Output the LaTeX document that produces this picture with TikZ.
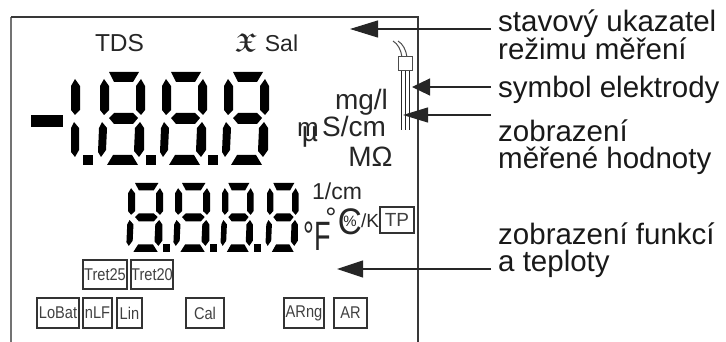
\documentclass[tikz,border=0pt]{standalone}
\usepackage{fontspec}
\setmainfont{Liberation Sans}
\newfontfamily\tagfont[FakeStretch=0.86]{Liberation Sans}
\font\boldfrak=eufb10 at 26pt
\usetikzlibrary{arrows.meta}
\tikzset{
  x=1pt,y=-1pt,
  fs/.style={font=\fontsize{#1}{#1}\selectfont},
  txt/.style={inner sep=0pt,text=black!85,anchor=base},
  lab/.style={inner sep=0pt,anchor=west,align=left,fs=29.5,text=black!90},
  tagbox/.style={draw=black!80,line width=1.2pt,inner sep=0pt,font=\tagfont\fontsize{17}{17}\selectfont,text=black!75},
  frameline/.style={line width=1.7pt,draw=black!78},
  pointer/.style 2 args={-{Triangle[length=#1,width=#2]},line width=1.1pt,draw=black!85},
  seg8/.pic={
    \fill (9,0)--(39,0)--(33,10)--(14,10)--cycle;
    \fill (4,7)--(9,14)--(9,38)--(4,43)--(0,38)--(0,14)--cycle;
    \fill (41,7)--(45,14)--(45,38)--(41,43)--(36,38)--(36,14)--cycle;
    \fill (14,41)--(33,41)--(38,46)--(33,52)--(14,52)--(9,46)--cycle;
    \fill (2,50)--(7,56)--(6,78)--(1,85)--(-2,80)--(-1,56)--cycle;
    \fill (40,50)--(44,56)--(44,78)--(39,85)--(34,79)--(35,56)--cycle;
    \fill (13,83)--(32,83)--(38,93)--(7,93)--cycle;
  },
  seg1/.pic={
    \fill (4,7)--(9,14)--(9,38)--(4,43)--(0,38)--(0,14)--cycle;
    \fill (3,50)--(8,56)--(8,78)--(4,85)--(0,80)--(0,56)--cycle;
  }
}
\begin{document}
\begin{tikzpicture}
\useasboundingbox (0,0) rectangle (726,342);
% frame
\draw[frameline,draw=black!55] (11,342) -- (11,17);
\draw[frameline] (11,17) -- (418,17) -- (418,342);
% top indicators
\node[txt,fs=24.5] (tds) at (119.5,52) {TDS};
\node[txt] (kappa) at (246,52) {\boldfrak X};
\node[txt,fs=23] (sal) at (281.5,52) {Sal};
% large digits
\fill (31,115) rectangle (63,127);
\pic at (71,72) {seg1};
\pic at (100,72) {seg8};
\pic at (162,72) {seg8};
\pic at (224,72) {seg8};
\fill (83,155) rectangle (93,165);
\fill (146,155) rectangle (156,165);
\fill (208,155) rectangle (218,165);
% small digits
\pic[xscale=.78,yscale=.74] at (128,183) {seg8};
\pic[xscale=.78,yscale=.74] at (175,183) {seg8};
\pic[xscale=.70,yscale=.74] at (222,183) {seg8};
\pic[xscale=.70,yscale=.74] at (267,183) {seg8};
\fill (163,244) rectangle (170,252);
\fill (210,244) rectangle (217,252);
\fill (254,244) rectangle (261,252);
% units
\node[txt,fs=28] (mgl) at (361.5,110) {mg/l};
\node[txt,fs=28] (scm) at (354,137) {S/cm};
\node[txt,fs=26] (mover) at (308,137) {m};
\node[txt,fs=28] (muover) at (310,142) {µ};
\node[txt,fs=28] (mohm) at (370.5,167) {MΩ};
\node[txt,fs=23] (percm) at (337,200) {1/cm};
\node[txt,fs=41,xscale=.66,transform shape] (degf) at (317,250) {°F};
\node[txt,fs=28] (degc) at (331,227) {°};
\node[txt,fs=37,xscale=.9,transform shape] (cel) at (350,234) {C};
\node[txt,fs=15] (pct) at (350,226.5) {\%};
\node[txt,fs=19] (perk) at (370,227) {/K};
\node[tagbox,minimum width=34pt,minimum height=26pt,font=\fontsize{19}{19}\selectfont] (tp) at (397,220) {TP};
% electrode
\draw[black!70,line width=1pt] (393,41) .. controls (398,44) and (401,50) .. (402,57);
\draw[black!70,line width=1pt] (398,41) .. controls (403,44) and (406,50) .. (407,57);
\draw[black!85,line width=1pt] (401,71) -- (401,130);
\draw[black!85,line width=1pt] (405,71) -- (405,130);
\draw[black!85,line width=1pt] (409,71) -- (409,130);
\node[draw=black!70,fill=white,line width=1pt,inner sep=0pt,minimum width=14pt,minimum height=14pt] (probe) at (405,64) {};
% mode tags
\node[tagbox,minimum width=44pt,minimum height=29pt] (t25) at (105,274.5) {Tret25};
\node[tagbox,minimum width=42pt,minimum height=29pt] (t20) at (152,274.5) {Tret20};
\node[tagbox,minimum width=42pt,minimum height=30pt] (lobat) at (58,313) {LoBat};
\node[tagbox,minimum width=29pt,minimum height=30pt] (nlf) at (97.5,313) {nLF};
\node[tagbox,minimum width=25pt,minimum height=30pt] (lin) at (129.5,313) {Lin};
\node[tagbox,minimum width=38pt,minimum height=30pt] (cal) at (205,313) {Cal};
\node[tagbox,minimum width=40pt,minimum height=30pt] (arng) at (304,313) {ARng};
\node[tagbox,minimum width=33pt,minimum height=30pt] (ar) at (350.5,313) {AR};
% labels
\node[lab] (l1) at (498,35) {stavový ukazatel\\[-2pt]režimu měření};
\node[lab] (l2) at (498,90) {symbol elektrody};
\node[lab] (l3) at (498,147) {zobrazení\\[-2pt]měřené hodnoty};
\node[lab] (l4) at (498,250) {zobrazení funkcí\\[-2pt]a teploty};
% connectors
\coordinate (a1) at (350,29);
\coordinate (a2) at (412,87);
\coordinate (a3) at (403,115);
\coordinate (a4) at (337,269);
\draw[pointer={28pt}{17pt}] ([xshift=-7pt]l1.west |- a1) -- (a1);
\draw[pointer={18pt}{17pt}] ([xshift=-7pt]l2.west |- a2) -- (a2);
\draw[pointer={25pt}{15pt}] ([xshift=-7pt]l3.west |- a3) -- (a3);
\draw[pointer={26pt}{17pt}] ([xshift=-7pt]l4.west |- a4) -- (a4);
\end{tikzpicture}
\end{document}
